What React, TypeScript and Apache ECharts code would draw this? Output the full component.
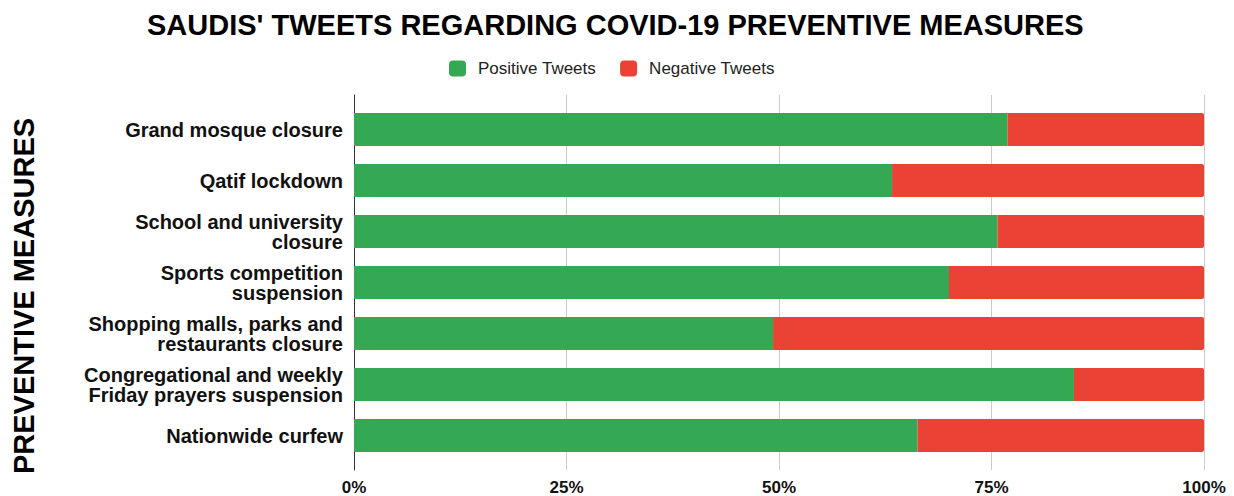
import React, { useEffect, useRef } from "react";
import * as echarts from "echarts";

const categories = [
  "Grand mosque closure",
  "Qatif lockdown",
  "School and university\nclosure",
  "Sports competition\nsuspension",
  "Shopping malls, parks and\nrestaurants closure",
  "Congregational and weekly\nFriday prayers suspension",
  "Nationwide curfew",
];
const positiveTweets = [76.9, 63.3, 75.7, 70.0, 49.3, 84.7, 66.3];
const negativeTweets = [23.1, 36.7, 24.3, 30.0, 50.7, 15.3, 33.7];
const xTicks = [0, 25, 50, 75, 100];

const FONT = "'Liberation Sans', Arial, Helvetica, sans-serif";

export default function App() {
  const ref = useRef<HTMLDivElement>(null);
  useEffect(() => {
    if (!ref.current) return;
    const chart = echarts.init(ref.current, null, { renderer: "svg" });
    chart.setOption({
      animation: false,
      backgroundColor: "#ffffff",
      textStyle: { fontFamily: FONT },
      title: {
        text: "SAUDIS' TWEETS REGARDING COVID-19 PREVENTIVE MEASURES",
        left: 142,
        top: 5,
        textStyle: { fontFamily: FONT, fontSize: 29, fontWeight: "bold", color: "#000" },
      },
      legend: {
        top: 55,
        left: 444,
        icon: "roundRect",
        itemWidth: 17,
        itemHeight: 16,
        itemGap: 24,
        textStyle: { fontFamily: FONT, fontSize: 17, color: "#222", padding: [0, 0, 0, 7] },
        data: ["Positive Tweets", "Negative Tweets"],
      },
      graphic: [
        {
          type: "text",
          x: 24,
          y: 296,
          rotation: Math.PI / 2,
          style: {
            text: "PREVENTIVE MEASURES",
            fontFamily: FONT,
            fontSize: 29,
            fontWeight: "bold",
            fill: "#000",
            textAlign: "center",
            textVerticalAlign: "middle",
          },
        },
      ],
      grid: [
        { left: 354, top: 95, width: 850, height: 375 },
        { left: 354, top: 104, width: 850, height: 357 },
      ],
      xAxis: [
        {
          gridIndex: 0,
          type: "value",
          min: xTicks[0],
          max: xTicks[xTicks.length - 1],
          interval: 25,
          axisLine: { show: false },
          axisTick: { show: false },
          splitLine: { show: true, lineStyle: { color: "#cccccc", width: 1 } },
          axisLabel: {
            formatter: "{value}%",
            fontFamily: FONT,
            fontSize: 17,
            fontWeight: "bold",
            color: "#111",
            margin: 9,
          },
        },
        {
          gridIndex: 1,
          type: "value",
          min: 0,
          max: 100,
          show: false,
          splitLine: { show: false },
        },
      ],
      yAxis: [
        {
          gridIndex: 0,
          type: "category",
          data: categories,
          axisLine: { show: true, lineStyle: { color: "#333", width: 1 } },
          axisTick: { show: false },
          axisLabel: { show: false },
          splitLine: { show: false },
        },
        {
          gridIndex: 1,
          type: "category",
          inverse: true,
          data: categories,
          axisLine: { show: false },
          axisTick: { show: false },
          axisLabel: {
            fontFamily: FONT,
            fontSize: 20,
            fontWeight: "bold",
            color: "#111",
            lineHeight: 20,
            margin: 11,
            align: "right",
          },
        },
      ],
      series: [
        {
          name: "Positive Tweets",
          type: "bar",
          stack: "total",
          xAxisIndex: 1,
          yAxisIndex: 1,
          barWidth: 33,
          data: positiveTweets,
          itemStyle: { color: "#34a853" },
        },
        {
          name: "Negative Tweets",
          type: "bar",
          stack: "total",
          xAxisIndex: 1,
          yAxisIndex: 1,
          barWidth: 33,
          data: negativeTweets,
          itemStyle: { color: "#ea4335", borderRadius: [0, 2, 2, 0] },
        },
      ],
    });
    return () => chart.dispose();
  }, []);
  return (
    <div
      ref={ref}
      style={{ position: "fixed", left: 0, top: 0, width: 1234, height: 496 }}
    />
  );
}
